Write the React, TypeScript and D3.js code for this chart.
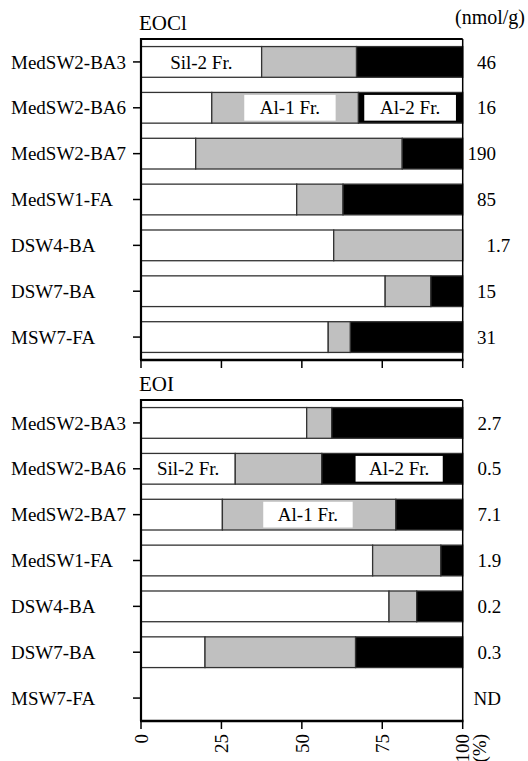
import React from "react";
import * as d3 from "d3";

// sample names, same order in both panels
const categories = [
  "MedSW2-BA3",
  "MedSW2-BA6",
  "MedSW2-BA7",
  "MedSW1-FA",
  "DSW4-BA",
  "DSW7-BA",
  "MSW7-FA",
];

const fractions = ["Sil-2", "Al-1", "Al-2"];

// EOCl composition (%)
const eoclSil2 = [37.5, 22.0, 17.0, 48.4, 59.9, 75.9, 58.2];
const eoclAl1 = [29.5, 45.6, 64.2, 14.4, 40.1, 14.2, 6.9];
const eoclAl2 = [33.0, 32.4, 18.8, 37.2, 0, 9.9, 34.9];
const eoclTotal = ["46", "16", "190", "85", "1.7", "15", "31"];

// EOI composition (%)
const eoiSil2 = [51.5, 29.3, 25.3, 72.0, 77.1, 19.9, 0];
const eoiAl1 = [7.8, 26.9, 53.9, 21.2, 8.6, 46.8, 0];
const eoiAl2 = [40.7, 43.8, 20.8, 6.8, 14.3, 33.3, 0];
const eoiTotal = ["2.7", "0.5", "7.1", "1.9", "0.2", "0.3", "ND"];

// in-bar fraction labels (ranges in %)
const eoclLabels = [
  { cat: "MedSW2-BA3", text: "Sil-2 Fr.", from: 0, to: 37.5, box: false },
  { cat: "MedSW2-BA6", text: "Al-1 Fr.", from: 32.1, to: 60.5, box: true },
  { cat: "MedSW2-BA6", text: "Al-2 Fr.", from: 69.4, to: 97.9, box: true },
];
const eoiLabels = [
  { cat: "MedSW2-BA6", text: "Sil-2 Fr.", from: 0, to: 29.3, box: false },
  { cat: "MedSW2-BA6", text: "Al-2 Fr.", from: 66.7, to: 93.8, box: true },
  { cat: "MedSW2-BA7", text: "Al-1 Fr.", from: 38.0, to: 65.8, box: true },
];

const xTicks = [0, 25, 50, 75, 100];

const colors = { "Sil-2": "#ffffff", "Al-1": "#c0c0c0", "Al-2": "#000000" };
const font = "Liberation Serif, Times New Roman, DejaVu Serif, serif";

const x = d3.scaleLinear().domain([0, 100]).range([141, 462.7]);

const Panel = ({ title, top, sil2, al1, al2, totals, labels, decX, showTickLabels }) => {
  const bottom = top + 321;
  const y = d3
    .scaleBand()
    .domain(categories)
    .range([top, bottom])
    .paddingInner(0.33)
    .paddingOuter(0.165);

  const rows = categories.map((c, i) => ({ cat: c, "Sil-2": sil2[i], "Al-1": al1[i], "Al-2": al2[i] }));
  const series = d3.stack().keys(fractions)(rows);
  const bw = y.bandwidth();

  return (
    <g>
      <text x={139} y={top - 9} style={{ fontSize: 21, fontFamily: font }}>
        {title}
      </text>

      {series.map((s) => (
        <g key={s.key}>
          {s.map((d, i) =>
            d[1] - d[0] > 0 ? (
              <rect
                key={i}
                x={x(d[0])}
                y={y(categories[i])}
                width={x(d[1]) - x(d[0])}
                height={bw}
                fill={colors[s.key]}
                stroke="#333"
                strokeWidth={1.3}
              />
            ) : null
          )}
        </g>
      ))}

      {labels.map((l, i) => {
        const yy = y(l.cat);
        return (
          <g key={i}>
            {l.box && (
              <rect x={x(l.from)} y={yy + 2.5} width={x(l.to) - x(l.from)} height={bw - 5} fill="#fff" />
            )}
            <text
              x={(x(l.from) + x(l.to)) / 2}
              y={yy + bw / 2}
              dy="0.35em"
              textAnchor="middle"
              style={{ fontSize: 19, fontFamily: font }}
            >
              {l.text}
            </text>
          </g>
        );
      })}

      {/* frame */}
      <line x1={x(0)} x2={x(100)} y1={top} y2={top} stroke="#000" strokeWidth={2} />
      <line x1={x(100)} x2={x(100)} y1={top} y2={bottom} stroke="#000" strokeWidth={1.5} />
      <line x1={x(0)} x2={x(0)} y1={top - 1} y2={bottom} stroke="#000" strokeWidth={2.2} />
      <line x1={x(0) - 1} x2={x(100) + 0.75} y1={bottom} y2={bottom} stroke="#000" strokeWidth={2.5} />

      {xTicks.map((t) => (
        <g key={t}>
          <line x1={x(t)} x2={x(t)} y1={bottom} y2={bottom + 8} stroke="#000" strokeWidth={1.5} />
          {showTickLabels && (
            <text
              transform={`translate(${x(t)},${bottom + 13}) rotate(-90)`}
              textAnchor="end"
              dy="0.35em"
              style={{ fontSize: 19, fontFamily: font }}
            >
              {t}
            </text>
          )}
        </g>
      ))}

      {categories.map((c, i) => {
        const cy = y(c) + bw / 2;
        const v = totals[i];
        const parts = v.split(".");
        const st = { fontSize: 19, fontFamily: font };
        return (
          <g key={c}>
            <line x1={x(0) - 8} x2={x(0)} y1={cy} y2={cy} stroke="#000" strokeWidth={1.5} />
            <text x={11} y={cy} dy="0.35em" style={{ fontSize: 19, fontFamily: font }}>
              {c}
            </text>
            {isNaN(+v) ? (
              <text x={decX + 14} y={cy} dy="0.35em" textAnchor="end" style={st}>
                {v}
              </text>
            ) : (
              <>
                <text x={decX} y={cy} dy="0.35em" textAnchor="end" style={st}>
                  {parts[0]}
                </text>
                {parts[1] && (
                  <text x={decX} y={cy} dy="0.35em" style={st}>
                    {"." + parts[1]}
                  </text>
                )}
              </>
            )}
          </g>
        );
      })}
    </g>
  );
};

export default function App() {
  return (
    <svg
      width={528}
      height={761}
      style={{ position: "absolute", left: 0, top: 0, background: "#fff" }}
    >
      <text x={525} y={24} textAnchor="end" style={{ fontSize: 20, fontFamily: font }}>
        (nmol/g)
      </text>
      <Panel
        title="EOCl"
        top={39}
        sil2={eoclSil2}
        al1={eoclAl1}
        al2={eoclAl2}
        totals={eoclTotal}
        labels={eoclLabels}
        decX={496}
        showTickLabels={false}
      />
      <Panel
        title="EOI"
        top={400}
        sil2={eoiSil2}
        al1={eoiAl1}
        al2={eoiAl2}
        totals={eoiTotal}
        labels={eoiLabels}
        decX={487}
        showTickLabels={true}
      />
      <text
        transform={`translate(479,${721 + 13}) rotate(-90)`}
        textAnchor="end"
        dy="0.35em"
        style={{ fontSize: 19, fontFamily: font }}
      >
        (%)
      </text>
    </svg>
  );
}
